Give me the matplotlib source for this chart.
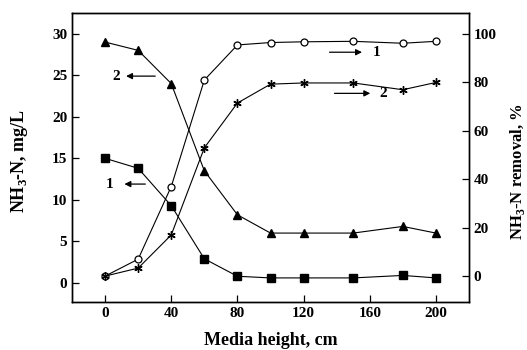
import numpy as np
import matplotlib
matplotlib.use('Agg')
import matplotlib.pyplot as plt

plt.rcParams['font.family'] = ['Liberation Serif', 'DejaVu Serif']
plt.rcParams['font.weight'] = 'bold'
plt.rcParams['mathtext.fontset'] = 'custom'
plt.rcParams['mathtext.rm'] = 'Liberation Serif:bold'

# media height, cm
height = [0, 20, 40, 60, 80, 100, 120, 150, 180, 200]
# NH3-N concentration, mg/L
nh3_1 = [15.0, 13.8, 9.3, 2.9, 0.8, 0.6, 0.6, 0.6, 0.9, 0.6]
nh3_2 = [29.0, 28.0, 24.0, 13.5, 8.2, 6.0, 6.0, 6.0, 6.8, 6.0]
# NH3-N removal, %
rem_1 = [0.0, 7.0, 37.0, 81.0, 95.5, 96.5, 96.8, 97.0, 96.2, 97.0]
rem_2 = [0.0, 3.3, 17.0, 53.0, 71.5, 79.3, 79.8, 79.8, 77.0, 80.0]

fig = plt.figure(figsize=(5.27, 3.5), dpi=100)
ax = fig.add_axes([72/527, 48/350, 397/527, 289/350])
ax2 = ax.twinx()

lw = 0.8
ax.plot(height, nh3_1, '-', color='black', lw=lw, marker='s', ms=5.5)
ax.plot(height, nh3_2, '-', color='black', lw=lw, marker='^', ms=6)
ax2.plot(height, rem_1, '-', color='black', lw=lw, marker='o', ms=5,
         mfc='white', mew=0.9)
ax2.plot(height, rem_2, '-', color='black', lw=lw, marker=(6, 2, 0), ms=6,
         mew=1.0)

ax.set_xlim(-20, 220)
ax.set_ylim(-2.3, 32.5)
ax2.set_ylim(-10.7, 108.7)
ax.set_xticks([0, 40, 80, 120, 160, 200])
ax.set_yticks([0, 5, 10, 15, 20, 25, 30])
ax2.set_yticks([0, 20, 40, 60, 80, 100])

fs = 11
ax.tick_params(axis='both', direction='in', length=5, width=0.9, labelsize=fs)
ax2.tick_params(axis='y', direction='in', length=5, width=0.9, labelsize=fs)
ax.tick_params(axis='x', top=False)
for a in (ax, ax2):
    for s in a.spines.values():
        s.set_linewidth(1.0)

ax.set_xlabel('Media height, cm', fontsize=13, fontweight='bold')
ax.set_ylabel(r'NH$_3$-N, mg/L', fontsize=13, fontweight='bold')
ax2.set_ylabel(r'NH$_3$-N removal, %', fontsize=12, fontweight='bold')
ax.xaxis.set_label_coords(0.5, -0.104)
ax.yaxis.set_label_coords(-0.106, 0.49)
ax2.yaxis.set_label_coords(1.098, 0.45)

arrow = dict(arrowstyle='-|>', color='black', lw=0.9, mutation_scale=9)
# curve labels with arrows
ax.annotate('', xy=(11, 24.9), xytext=(32, 24.9), arrowprops=arrow)
ax.text(7, 24.9, '2', fontsize=fs, fontweight='bold', ha='center', va='center')
ax.annotate('', xy=(10, 11.9), xytext=(26, 11.9), arrowprops=arrow)
ax.text(3, 11.9, '1', fontsize=fs, fontweight='bold', ha='center', va='center')
ax2.annotate('', xy=(157, 92.5), xytext=(134, 92.5), arrowprops=arrow)
ax2.text(162, 92.5, '1', fontsize=fs, fontweight='bold', ha='left', va='center')
ax2.annotate('', xy=(162, 75.5), xytext=(137, 75.5), arrowprops=arrow)
ax2.text(166, 75.5, '2', fontsize=fs, fontweight='bold', ha='left', va='center')

fig.savefig('out.png', dpi=100)
